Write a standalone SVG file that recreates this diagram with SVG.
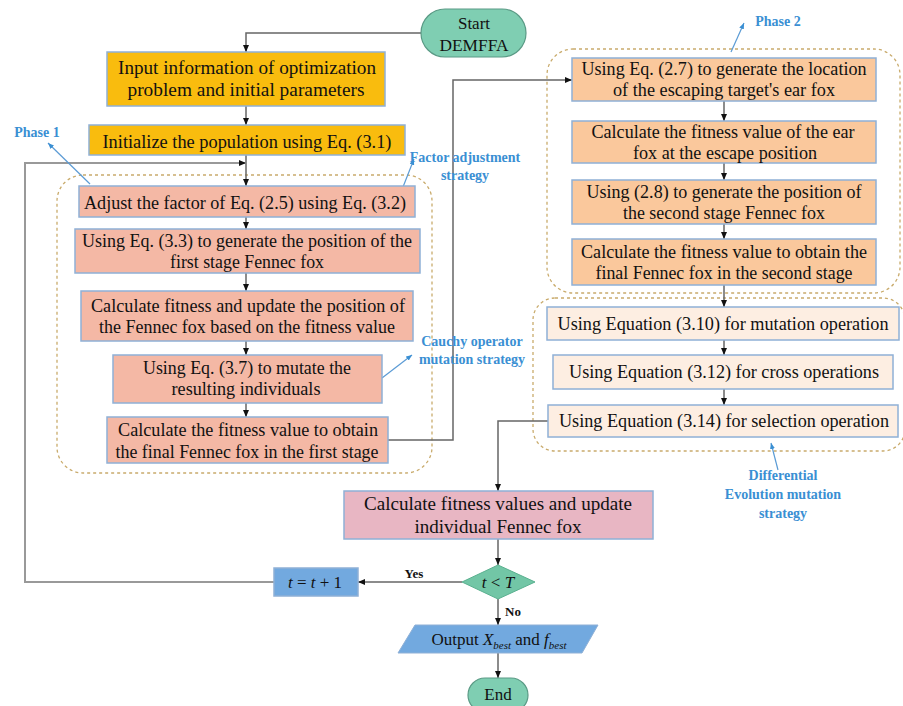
<svg xmlns="http://www.w3.org/2000/svg" width="903" height="706" viewBox="0 0 903 706">
<style>
text{font-family:"Liberation Serif","Times New Roman",serif;fill:#111;}
.t{font-size:18px;text-anchor:middle;}
.lbl{font-size:14px;font-weight:bold;fill:#3a8fd3;text-anchor:middle;}
.yn{font-size:13px;font-weight:bold;text-anchor:middle;}
.box{stroke:#8fb0d6;stroke-width:1.5;}
.yel{fill:#f9bc0e;}
.sal{fill:#f4b8a5;}
.org{fill:#fac89c;}
.pch{fill:#fdeee2;}
.pnk{fill:#e8b6c3;}
.blu{fill:#72a9df;}
.tea{fill:#7fceb2;stroke:#5a9a85;stroke-width:1.2;}
.grp{fill:none;stroke:#c9ab6c;stroke-width:1.3;stroke-dasharray:3 3;}
.con{fill:none;stroke:#666;stroke-width:1.5;}
.loop{fill:none;stroke:#999;stroke-width:2;}
.ann{fill:none;stroke:#5b9bd5;stroke-width:1.2;}
</style>
<defs>
<marker id="ah" markerWidth="7" markerHeight="6" refX="7" refY="3" orient="auto" markerUnits="userSpaceOnUse">
<path d="M0,0 L7,3 L0,6 z" fill="#111"/>
</marker>
<marker id="ab" markerWidth="6" markerHeight="5" refX="6" refY="2.5" orient="auto" markerUnits="userSpaceOnUse">
<path d="M0,0 L6,2.5 L0,5 z" fill="#3a8fd3"/>
</marker>
</defs>

<g id="groups">
<rect class="grp" x="57" y="175" width="375" height="298" rx="26"/>
<rect class="grp" x="547" y="49" width="353" height="244" rx="26"/>
<rect class="grp" x="533" y="298" width="372" height="153" rx="22"/>
</g>

<g id="connectors">
<path class="con" d="M421,33 H246 V52" marker-end="url(#ah)"/>
<path class="con" d="M246,106 V125" marker-end="url(#ah)"/>
<path class="con" d="M246,155 V186" marker-end="url(#ah)"/>
<path class="loop" d="M274,582 H25 V163 H246" marker-end="url(#ah)"/>
<path class="con" d="M246,217 V229" marker-end="url(#ah)"/>
<path class="con" d="M246,273 V291" marker-end="url(#ah)"/>
<path class="con" d="M246,341 V355" marker-end="url(#ah)"/>
<path class="con" d="M246,403 V417" marker-end="url(#ah)"/>
<path class="con" d="M388,440 H453 V80 H572" marker-end="url(#ah)"/>
<path class="con" d="M724,101 V121" marker-end="url(#ah)"/>
<path class="con" d="M724,163 V180" marker-end="url(#ah)"/>
<path class="con" d="M724,224 V239" marker-end="url(#ah)"/>
<path class="con" d="M724,285 V307" marker-end="url(#ah)"/>
<path class="con" d="M724,340 V355" marker-end="url(#ah)"/>
<path class="con" d="M724,389 V405" marker-end="url(#ah)"/>
<path class="con" d="M548,421 H498 V491" marker-end="url(#ah)"/>
<path class="con" d="M498,539 V565" marker-end="url(#ah)"/>
<path class="con" d="M462,582 H358" marker-end="url(#ah)"/>
<path class="con" d="M498,599 V625" marker-end="url(#ah)"/>
<path class="con" d="M498,653 V678" marker-end="url(#ah)"/>
<text class="yn" x="414" y="578">Yes</text>
<text class="yn" x="513" y="616">No</text>
</g>

<g id="annotations">
<path class="ann" d="M90,184 L48,143" marker-end="url(#ab)"/>
<text class="lbl" x="37" y="137">Phase 1</text>
<path class="ann" d="M403,187 L414,159" marker-end="url(#ab)"/>
<text class="lbl" x="465" y="162">Factor adjustment</text>
<text class="lbl" x="465" y="180">strategy</text>
<path class="ann" d="M731,52 L744,23" marker-end="url(#ab)"/>
<text class="lbl" x="778" y="26">Phase 2</text>
<path class="ann" d="M382,378 L412,355" marker-end="url(#ab)"/>
<text class="lbl" x="472" y="346">Cauchy operator</text>
<text class="lbl" x="472" y="364">mutation strategy</text>
<path class="ann" d="M778,470 L771,443" marker-end="url(#ab)"/>
<text class="lbl" x="783" y="480">Differential</text>
<text class="lbl" x="783" y="499">Evolution mutation</text>
<text class="lbl" x="783" y="518">strategy</text>
</g>

<g id="start">
<rect class="tea" x="421" y="9" width="105" height="48" rx="24"/>
<text class="t" x="474" y="29" font-size="17" style="font-size:17px">Start</text>
<text class="t" x="474" y="51" style="font-size:17px" textLength="69" lengthAdjust="spacingAndGlyphs">DEMFFA</text>
</g>

<g id="input">
<rect class="box yel" x="107" y="52" width="278" height="54"/>
<text class="t" x="247" y="74" textLength="258" lengthAdjust="spacingAndGlyphs">Input information of optimization</text>
<text class="t" x="246" y="96" textLength="237" lengthAdjust="spacingAndGlyphs">problem and  initial parameters</text>
</g>

<g id="init">
<rect class="box yel" x="89" y="125" width="316" height="30"/>
<text class="t" x="247" y="148" textLength="289" lengthAdjust="spacingAndGlyphs">Initialize the population using Eq.  (3.1)</text>
</g>

<g id="adjust">
<rect class="box sal" x="79" y="186" width="336" height="31"/>
<text class="t" x="245" y="209" textLength="322" lengthAdjust="spacingAndGlyphs">Adjust the factor of Eq. (2.5) using Eq. (3.2)</text>
</g>

<g id="eq33">
<rect class="box sal" x="75" y="229" width="345" height="44"/>
<text class="t" x="247" y="247" textLength="330" lengthAdjust="spacingAndGlyphs">Using Eq. (3.3) to generate the position of the</text>
<text class="t" x="247" y="268" textLength="154" lengthAdjust="spacingAndGlyphs">first stage Fennec fox</text>
</g>

<g id="calcfit1">
<rect class="box sal" x="81" y="291" width="332" height="50"/>
<text class="t" x="248" y="312" textLength="314" lengthAdjust="spacingAndGlyphs">Calculate fitness and update the position of</text>
<text class="t" x="247" y="333" textLength="296" lengthAdjust="spacingAndGlyphs">the Fennec fox based on the fitness value</text>
</g>

<g id="eq37">
<rect class="box sal" x="113" y="355" width="269" height="48"/>
<text class="t" x="247" y="374" textLength="208" lengthAdjust="spacingAndGlyphs">Using Eq. (3.7) to mutate the</text>
<text class="t" x="246" y="395" textLength="149" lengthAdjust="spacingAndGlyphs">resulting individuals</text>
</g>

<g id="final1">
<rect class="box sal" x="107" y="417" width="281" height="46"/>
<text class="t" x="248" y="436" textLength="260" lengthAdjust="spacingAndGlyphs">Calculate the fitness value to obtain</text>
<text class="t" x="247" y="458" textLength="263" lengthAdjust="spacingAndGlyphs">the final Fennec fox in the first stage</text>
</g>

<g id="eq27">
<rect class="box org" x="572" y="58" width="304" height="43"/>
<text class="t" x="724" y="75" textLength="285" lengthAdjust="spacingAndGlyphs">Using Eq. (2.7) to generate the location</text>
<text class="t" x="724" y="96" textLength="222" lengthAdjust="spacingAndGlyphs">of the escaping target's ear fox</text>
</g>

<g id="earfit">
<rect class="box org" x="572" y="121" width="304" height="42"/>
<text class="t" x="723" y="138" textLength="263" lengthAdjust="spacingAndGlyphs">Calculate the fitness value of the ear</text>
<text class="t" x="725" y="159" textLength="184" lengthAdjust="spacingAndGlyphs">fox at the escape position</text>
</g>

<g id="eq28">
<rect class="box org" x="572" y="180" width="304" height="44"/>
<text class="t" x="724" y="198" textLength="275" lengthAdjust="spacingAndGlyphs">Using (2.8) to generate the position of</text>
<text class="t" x="724" y="219" textLength="202" lengthAdjust="spacingAndGlyphs">the second stage Fennec fox</text>
</g>

<g id="final2">
<rect class="box org" x="572" y="239" width="304" height="46"/>
<text class="t" x="724" y="258" textLength="286" lengthAdjust="spacingAndGlyphs">Calculate the fitness value to obtain the</text>
<text class="t" x="724" y="279" textLength="257" lengthAdjust="spacingAndGlyphs">final Fennec fox in the second stage</text>
</g>

<g id="de310">
<rect class="box pch" x="547" y="307" width="352" height="33"/>
<text class="t" x="723" y="330" textLength="331" lengthAdjust="spacingAndGlyphs">Using Equation (3.10) for mutation  operation</text>
</g>

<g id="de312">
<rect class="box pch" x="553" y="355" width="340" height="34"/>
<text class="t" x="724" y="378" textLength="310" lengthAdjust="spacingAndGlyphs">Using Equation (3.12) for cross operations</text>
</g>

<g id="de314">
<rect class="box pch" x="548" y="405" width="350" height="32"/>
<text class="t" x="724" y="427" textLength="330" lengthAdjust="spacingAndGlyphs">Using Equation (3.14) for selection operation</text>
</g>

<g id="calcvalues">
<rect class="box pnk" x="344" y="491" width="309" height="48"/>
<text class="t" x="498" y="510" textLength="268" lengthAdjust="spacingAndGlyphs">Calculate fitness values and update</text>
<text class="t" x="498" y="533" textLength="167" lengthAdjust="spacingAndGlyphs">individual Fennec fox</text>
</g>

<g id="decision">
<polygon points="498,565 535,582 498,599 462,582" fill="#72c6a6" stroke="#5ab08f" stroke-width="1"/>
<text class="t" x="498" y="588" style="font-size:17px"><tspan font-style="italic">t</tspan> &lt; <tspan font-style="italic">T</tspan></text>
</g>

<g id="increment">
<rect class="box blu" x="274" y="568" width="84" height="28"/>
<text class="t" x="315" y="588" style="font-size:17px"><tspan font-style="italic">t</tspan> = <tspan font-style="italic">t</tspan> + 1</text>
</g>

<g id="output">
<polygon points="415,625 598,625 582,653 398,653" fill="#72a9df" stroke="#8fb0d6" stroke-width="1"/>
<text class="t" x="499" y="645" style="font-size:17px">Output <tspan font-style="italic">X</tspan><tspan font-style="italic" font-size="11" dy="4">best</tspan><tspan dy="-4"> and  </tspan><tspan font-style="italic">f</tspan><tspan font-style="italic" font-size="11" dy="4">best</tspan></text>
</g>

<g id="end">
<rect class="tea" x="468" y="678" width="60" height="34" rx="17"/>
<text class="t" x="498" y="700" style="font-size:17px">End</text>
</g>
</svg>
